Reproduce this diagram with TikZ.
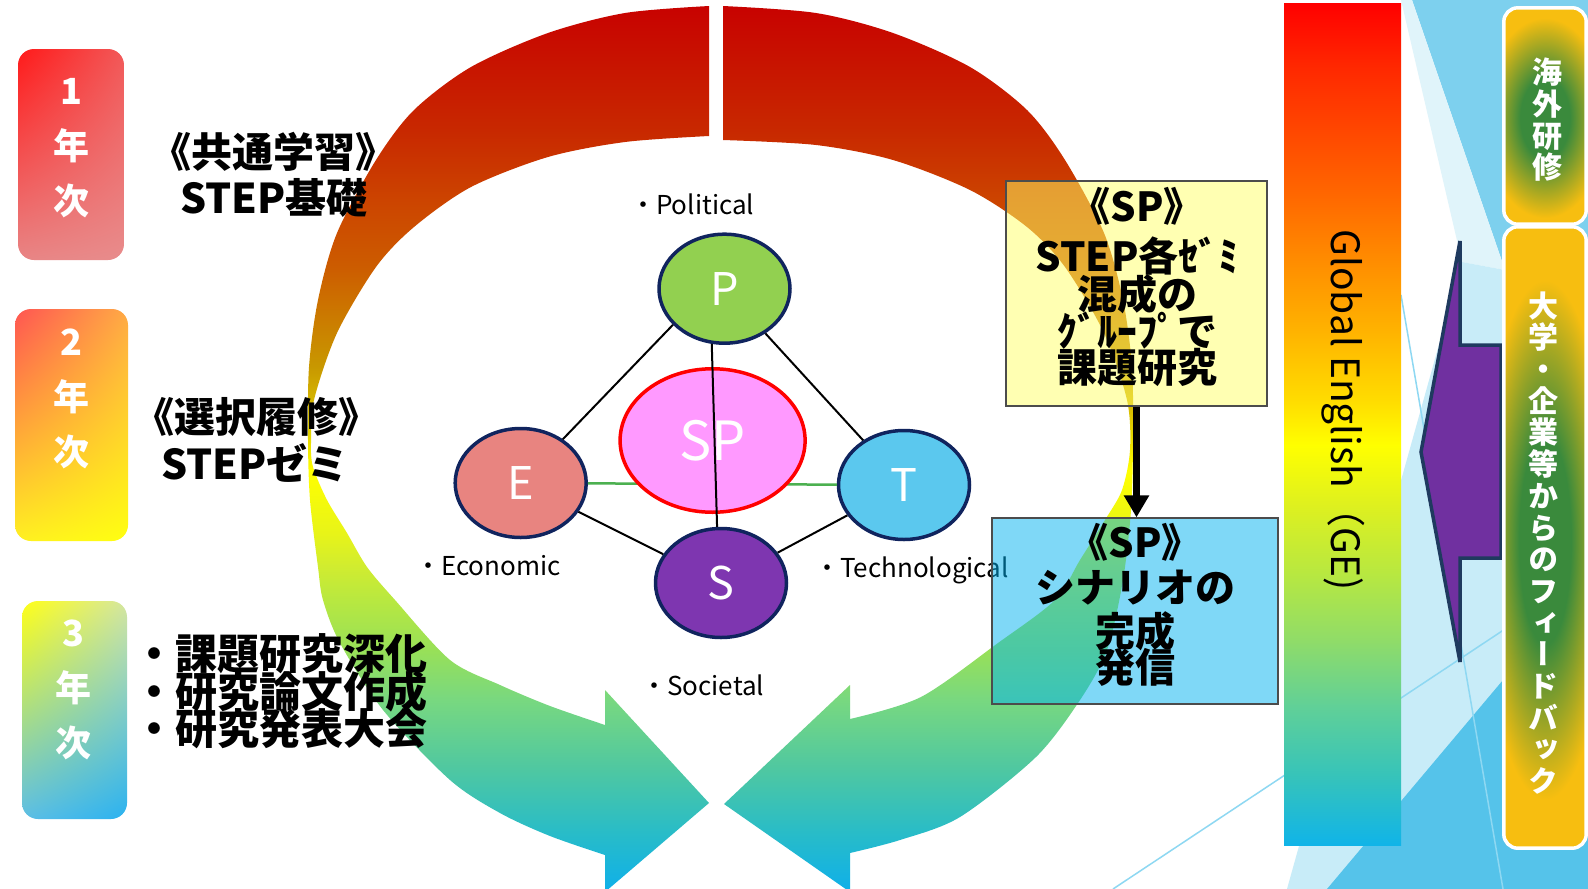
\documentclass[tikz,border=0pt]{standalone}
\usepackage{fontspec}
\setmainfont{Noto Sans CJK JP}
\newfontfamily\jpv{Noto Sans CJK JP}[RawFeature=+vert]
\usetikzlibrary{shapes.geometric,arrows.meta,shadings}

\definecolor{navyb}{HTML}{10245E}
\definecolor{pgreenc}{HTML}{92D050}
\definecolor{esalmon}{HTML}{E88480}
\definecolor{tblue}{HTML}{5BC8EE}
\definecolor{spurple}{HTML}{7E36B0}
\definecolor{sppink}{HTML}{FF99FF}
\definecolor{etgreen}{HTML}{4CB050}
\definecolor{boxyel}{HTML}{FFFF66}
\definecolor{boxblu}{HTML}{00B2F0}
\definecolor{arrpur}{HTML}{7030A0}
\definecolor{arrnavy}{HTML}{1F3A5F}
\definecolor{panelgreen}{HTML}{3A8A3C}
\definecolor{panelgold}{HTML}{F7BE10}
\definecolor{bgmed}{HTML}{7DD0EE}
\definecolor{bgpale}{HTML}{C8ECF8}
\definecolor{bgpaleb}{HTML}{E0F4FA}
\definecolor{bgsky}{HTML}{55C3EA}
\definecolor{bglinec}{HTML}{8ED8F2}
\definecolor{yia}{HTML}{FF1A1A}\definecolor{yib}{HTML}{F25858}\definecolor{yic}{HTML}{E88585}\definecolor{yid}{HTML}{E88C8C}
\definecolor{yiia}{HTML}{FF5552}\definecolor{yiib}{HTML}{FFAA45}\definecolor{yiic}{HTML}{FFF022}\definecolor{yiid}{HTML}{FFFF10}
\definecolor{yiiia}{HTML}{FFFF18}\definecolor{yiiib}{HTML}{D5E6A0}\definecolor{yiiic}{HTML}{5CBEE6}\definecolor{yiiid}{HTML}{2AB2F0}
% ring colours
\definecolor{ra}{HTML}{10B0E8}\definecolor{rb}{HTML}{28BCC8}\definecolor{rc}{HTML}{50C8A0}
\definecolor{rd}{HTML}{78D880}\definecolor{re}{HTML}{98E058}\definecolor{rf}{HTML}{B8E840}
\definecolor{rg}{HTML}{D0EC30}\definecolor{rh}{HTML}{E8F418}\definecolor{ri}{HTML}{FFFF00}
\definecolor{rj}{HTML}{E0D000}\definecolor{rk}{HTML}{C89800}\definecolor{rl}{HTML}{CC7000}
\definecolor{rm}{HTML}{CC5C00}\definecolor{rn}{HTML}{CC4400}\definecolor{ro}{HTML}{C82800}
\definecolor{rp}{HTML}{C80000}
% GE colours
\definecolor{ga}{HTML}{10B4E8}\definecolor{gb}{HTML}{38C4B8}\definecolor{gc}{HTML}{60D098}
\definecolor{gd}{HTML}{90DC68}\definecolor{ge}{HTML}{B8E840}\definecolor{gf}{HTML}{DDF020}
\definecolor{gg}{HTML}{FFFF00}\definecolor{gh}{HTML}{FFDC00}\definecolor{gi}{HTML}{FFB400}
\definecolor{gj}{HTML}{FF9000}\definecolor{gk}{HTML}{FF6A00}\definecolor{gl}{HTML}{FF4800}
\definecolor{gm}{HTML}{FF2800}\definecolor{gn}{HTML}{FF0000}

\pgfdeclareverticalshading{ringshade}{100bp}{color(0bp)=(ra); color(25bp)=(ra); color(28.15bp)=(rb); color(31.86bp)=(rc); color(35.63bp)=(rd); color(38.44bp)=(re); color(41.26bp)=(rf); color(43.11bp)=(rg); color(45.02bp)=(rh); color(48.57bp)=(ri); color(50.82bp)=(rj); color(54.36bp)=(rk); color(58.13bp)=(rl); color(59.98bp)=(rm); color(63.75bp)=(rn); color(67.69bp)=(ro); color(75bp)=(rp); color(100bp)=(rp)}
\pgfdeclareverticalshading{geshade}{100bp}{color(0bp)=(ga); color(25bp)=(ga); color(29.28bp)=(gb); color(33.2bp)=(gc); color(37.18bp)=(gd); color(41.15bp)=(ge); color(45.07bp)=(gf); color(48.75bp)=(gg); color(51.43bp)=(gh); color(55.4bp)=(gi); color(59.32bp)=(gj); color(63.3bp)=(gk); color(67.28bp)=(gl); color(71.2bp)=(gm); color(75bp)=(gn); color(100bp)=(gn)}
\pgfdeclareradialshading{panelshade}{\pgfpoint{0bp}{0bp}}{color(0bp)=(panelgreen); color(10bp)=(panelgreen); color(25bp)=(panelgold); color(50bp)=(panelgold)}

\begin{document}
\begin{tikzpicture}[x=1pt,y=-1pt,
  yearbox/.style={rounded corners=16pt, inner sep=0pt},
  yeartxt/.style={text=white, font=\bfseries\fontsize{36}{55}\selectfont, align=center, inner sep=0pt},
  headtxt/.style={font=\bfseries\fontsize{41}{46}\selectfont, inner sep=0pt},
  listtxt/.style={font=\bfseries\fontsize{42}{42}\selectfont, inner sep=0pt, anchor=west},
  pest/.style={ellipse, draw=navyb, line width=3.5pt, minimum width=131pt, minimum height=109pt, inner sep=0pt, text=white, font=\fontsize{45}{45}\selectfont},
  lab/.style={font=\fontsize{26}{28}\selectfont, inner sep=0pt, anchor=west},
  link/.style={line width=2pt, black},
  boxtxt/.style={font=\bfseries\fontsize{40}{40}\selectfont, inner sep=0pt},
  bgl/.style={draw=bglinec, line width=1.5pt},
  paneltxt/.style={text=white, font=\jpv\bfseries\fontsize{30}{31.7}\selectfont, align=center, inner sep=0pt},
  panel/.style={rounded corners=14pt, fill=panelgold, inner sep=0pt, minimum width=82pt},
]
\useasboundingbox (0,0) rectangle (1588,889);
\clip (0,0) rectangle (1588,889);
\fill[white] (0,0) rectangle (1588,889);

% ---------- background facets ----------
\fill[bgmed] (1412,0) -- (1588,0) -- (1588,300) -- (1505,270) -- cycle;
\fill[bgpaleb] (1401,0) -- (1412,0) -- (1505,270) -- (1462,262) -- cycle;
\fill[bgpale] (1287,889) -- (1462,262) -- (1505,270) -- (1588,300) -- (1588,889) -- cycle;
\fill[bgsky] (1327,889) -- (1503,680) -- (1588,579) -- (1588,889) -- cycle;
\path[bgl] (1401,295) -- (1503,889);
\path[bgl] (1113,889) -- (1588,574);

% ---------- ring arrows ----------
\begin{scope}
\clip plot[smooth] coordinates {(709,6) (625,13) (548,33) (471,67) (414,110) (376,160) (337,233) (318,300) (309,367) (308,440) (310,500) (318,567) (323,600) (340,643) (383,710) (450,780) (500,813) (550,836) (605,855)}
 -- (605,892) -- (709,803) -- (605,690)
 -- plot[smooth] coordinates {(605,725) (550,706) (500,685) (450,660) (395,600) (367,567) (347,533) (327,500) (313,467) (311,443) (314,400) (337,333) (376,267) (414,227) (471,187) (548,157) (625,142) (709,136)} -- cycle;
\shade[shading=ringshade] (0,0) rectangle (1588,889);
\end{scope}
\begin{scope}
\clip plot[smooth] coordinates {(723,6) (816,13) (893,33) (970,67) (1027,110) (1065,160) (1104,233) (1123,300) (1132,367) (1133,440) (1131,510) (1123,580) (1107,650) (1080,700) (1036,757) (960,817) (900,840) (850,853)}
 -- (850,892) -- (724,804) -- (850,685)
 -- plot[smooth] coordinates {(850,719) (921,697) (998,643) (1055,600) (1080,560) (1105,520) (1122,490) (1130,450) (1127,400) (1104,333) (1065,267) (1027,227) (970,190) (893,160) (816,145) (723,140)} -- cycle;
\shade[shading=ringshade] (0,0) rectangle (1588,889);
\end{scope}

% ---------- year boxes ----------
\node[yearbox, minimum width=106pt, minimum height=211pt, upper left=yia, upper right=yib, lower left=yic, lower right=yid] (yb1) at (71,154.5) {};
\node[yearbox, minimum width=113pt, minimum height=232pt, upper left=yiia, upper right=yiib, lower left=yiic, lower right=yiid] (yb2) at (71.5,425) {};
\node[yearbox, minimum width=105pt, minimum height=218pt, upper left=yiiia, upper right=yiiib, lower left=yiiic, lower right=yiiid] (yb3) at (74.5,710) {};
\node[yeartxt] (yt1) at (71,148) {1\\年\\次};
\node[yeartxt] (yt2) at (71,399) {2\\年\\次};
\node[yeartxt] (yt3) at (73,690) {3\\年\\次};

\node[headtxt] (h1a) at (273,152) {《共通学習》};
\node[headtxt] (h1b) at (274,198) {STEP基礎};
\node[headtxt] (h2a) at (256,417) {《選択履修》};
\node[headtxt] (h2b) at (255,463) {STEPゼミ};
\node[listtxt] (l1) at (133,654) {・課題研究深化};
\node[listtxt] (l2) at (133,691) {・研究論文作成};
\node[listtxt] (l3) at (133,729) {・研究発表大会};

% ---------- PEST diagram ----------
\node[pest, fill=pgreenc] (P) at (724.5,288.7) {P};
\node[pest, fill=esalmon] (E) at (520.7,483) {E};
\node[pest, fill=tblue] (T) at (904,485) {T};
\node[pest, fill=spurple] (S) at (721,583) {S};
\draw[etgreen, line width=2.5pt] (E) -- (T);
\node[ellipse, draw=red, line width=3.5pt, fill=sppink, minimum width=185pt, minimum height=143.5pt, inner sep=0pt, text=white, font=\fontsize{54}{54}\selectfont] (SP) at (712.6,440.5) {SP};
\draw[link] (P.257) -- (S.94);
\draw[link] (E) -- (P.215);
\draw[link] (P) -- (T);
\draw[link] (E) -- (S);
\draw[link] (S) -- (T);
\node[lab] (lp) at (630,204) {・Political};
\node[lab] (le) at (415,566) {・Economic};
\node[lab] (lt) at (814,570) {・Technological};
\node[lab] (ls) at (641,685) {・Societal};

% ---------- Global English bar ----------
\node[shade, shading=geshade, minimum width=117pt, minimum height=842pt, inner sep=0pt] (ge) at (1342.5,424) {};
\node[rotate=-90, font=\fontsize{39}{39}\selectfont, inner sep=0pt] (get) at (1343,410) {Global English（GE)};

% ---------- SP boxes ----------
\node[draw=black!70, line width=1.2pt, fill=boxyel, fill opacity=0.5, minimum width=261pt, minimum height=225pt, inner sep=0pt] (yb) at (1136.5,293.5) {};
\node[draw=black!70, line width=1.2pt, fill=boxblu, fill opacity=0.5, minimum width=286pt, minimum height=186pt, inner sep=0pt] (bb) at (1135,611) {};
\node[boxtxt] (ya) at (1137,206) {《SP》};
\node[boxtxt] (yb2t) at (1137,256) {STEP各ｾﾞﾐ};
\node[boxtxt] (yc) at (1137,294) {混成の};
\node[boxtxt] (yd) at (1137,331) {ｸﾞﾙｰﾌﾟで};
\node[boxtxt] (ye) at (1137,367) {課題研究};
\node[boxtxt] (ba) at (1135,542) {《SP》};
\node[boxtxt] (bbt) at (1135,588) {シナリオの};
\node[boxtxt] (bc) at (1135,631) {完成};
\node[boxtxt] (bd) at (1135,667) {発信};
\draw[line width=7pt, -{Triangle[width=24pt,length=22pt]}] (yb.south) -- (yb.south |- bb.north);

% ---------- feedback arrow ----------
\draw[fill=arrpur, draw=arrnavy, line width=3.5pt, line join=miter] (1421,452) -- (1460,241) -- (1460,345) -- (1501,345) -- (1501,558) -- (1460,558) -- (1460,662) -- cycle;

% ---------- right panels ----------
\node[panel, minimum height=216pt] (ov) at (1545,116) {};
\begin{scope}
\clip[rounded corners=14pt] (ov.south west) rectangle (ov.north east);
\shade[shading=panelshade] (1545,118) ellipse [x radius=62pt, y radius=100pt];
\end{scope}
\draw[white, line width=3.5pt, rounded corners=14pt] (ov.south west) rectangle (ov.north east);
\node[panel, minimum height=621pt] (fb) at (1545,537.5) {};
\begin{scope}
\clip[rounded corners=14pt] (fb.south west) rectangle (fb.north east);
\shade[shading=panelshade] (1545,540) ellipse [x radius=65pt, y radius=260pt];
\end{scope}
\draw[white, line width=3.5pt, rounded corners=14pt] (fb.south west) rectangle (fb.north east);
\node[paneltxt] (ovt) at (1547,120) {海\\外\\研\\修};
\node[paneltxt] (fbt) at (1543,543) {大\\学\\・\\企\\業\\等\\か\\ら\\の\\フ\\ィ\\ー\\ド\\バ\\ッ\\ク};
\end{tikzpicture}
\end{document}
